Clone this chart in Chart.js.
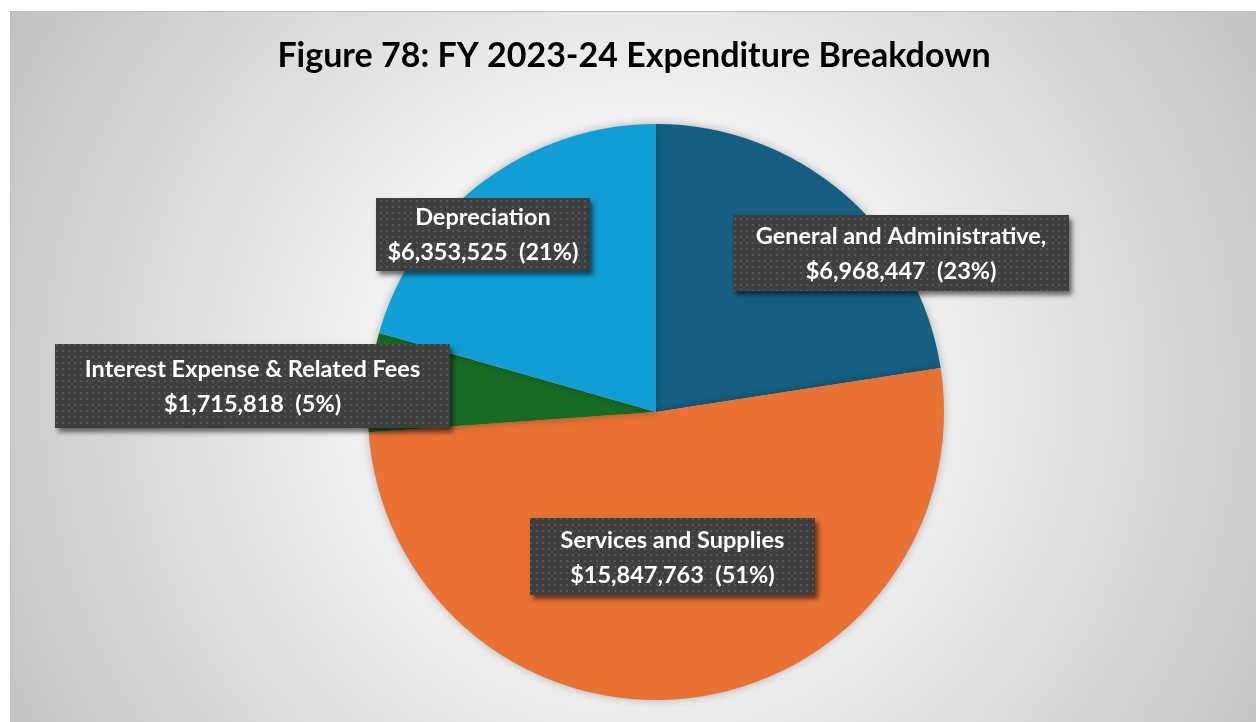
<!DOCTYPE html>
<html>
<head>
<meta charset="utf-8">
<title>FY 2023-24 Expenditure Breakdown</title>
<script src="https://cdn.jsdelivr.net/npm/chart.js@4.4.1/dist/chart.umd.min.js"></script>
<style>
  html, body { margin: 0; padding: 0; background: #fff; }
  #wrap { width: 1256px; height: 722px; }
</style>
</head>
<body>
<div id="wrap"><canvas id="pie"></canvas></div>
<script>
const chartTitle = "Figure 78: FY 2023-24 Expenditure Breakdown";
const categories = ["General and Administrative,", "Services and Supplies", "Interest Expense & Related Fees", "Depreciation"];
const amounts = [6968447, 15847763, 1715818, 6353525];
const percentLabels = ["23%", "51%", "5%", "21%"];
const sliceColors = ["#156082", "#E97132", "#196B24", "#0F9ED5"];

// callout boxes: centre offset from the pie centre (in radii) and box size in px
const callouts = [
  { dx: 0.851, dy: -0.552, w: 336, h: 76 },
  { dx: 0.057, dy: 0.502, w: 285, h: 77 },
  { dx: -1.401, dy: -0.09, w: 395, h: 84 },
  { dx: -0.601, dy: -0.618, w: 214, h: 73 }
];

const LABEL_FONT = "bold 23.5px Lato";
const TITLE_FONT = "bold 34px Lato";

function money(v) {
  return "$" + v.toLocaleString("en-US");
}

// dark fill with a faint dot grid for the callouts
function makeDotPattern(ctx) {
  const tile = document.createElement("canvas");
  tile.width = 6;
  tile.height = 6;
  const t = tile.getContext("2d");
  t.fillStyle = "#3f3f3f";
  t.fillRect(0, 0, 6, 6);
  t.fillStyle = "#575757";
  t.fillRect(2, 2, 2, 2);
  return ctx.createPattern(tile, "repeat");
}

const backdrop = {
  id: "backdrop",
  beforeDraw(chart) {
    const { ctx, width, height } = chart;
    ctx.save();
    ctx.fillStyle = "#ffffff";
    ctx.fillRect(0, 0, width, height);
    const g = ctx.createRadialGradient(640, 390, 0, 640, 390, 760);
    g.addColorStop(0, "#ffffff");
    g.addColorStop(0.35, "#f2f2f2");
    g.addColorStop(1, "#bfbfbf");
    ctx.fillStyle = g;
    ctx.fillRect(10, 11, width - 10, height - 11);
    ctx.strokeStyle = "#bdbdbd";
    ctx.lineWidth = 1;
    ctx.beginPath();
    ctx.moveTo(10.5, height);
    ctx.lineTo(10.5, 11.5);
    ctx.lineTo(width, 11.5);
    ctx.stroke();

    // title sits over the whole frame, not just the pie's box
    ctx.font = TITLE_FONT;
    ctx.fillStyle = "#000000";
    ctx.textAlign = "center";
    ctx.textBaseline = "middle";
    ctx.fillText(chartTitle, 634, 56);
    ctx.restore();
  }
};

// soft shadow under the pie
const pieShadow = {
  id: "pieShadow",
  beforeDatasetsDraw(chart) {
    const ctx = chart.ctx;
    ctx.save();
    ctx.shadowColor = "rgba(0,0,0,0.28)";
    ctx.shadowBlur = 8;
    ctx.shadowOffsetX = 0;
    ctx.shadowOffsetY = 0;
  },
  afterDatasetsDraw(chart) {
    chart.ctx.restore();
  }
};

const calloutLabels = {
  id: "calloutLabels",
  afterDraw(chart) {
    const ctx = chart.ctx;
    const arcs = chart.getDatasetMeta(0).data;
    const fill = makeDotPattern(ctx);
    arcs.forEach((arc, i) => {
      const { x, y, outerRadius } = arc.getProps(["x", "y", "outerRadius"], true);
      const c = callouts[i];
      const cx = x + c.dx * outerRadius;
      const cy = y + c.dy * outerRadius;
      const left = Math.round(cx - c.w / 2);
      const top = Math.round(cy - c.h / 2);

      ctx.save();
      ctx.shadowColor = "rgba(0,0,0,0.55)";
      ctx.shadowBlur = 5;
      ctx.shadowOffsetX = 3;
      ctx.shadowOffsetY = 4;
      ctx.fillStyle = fill;
      ctx.fillRect(left, top, c.w, c.h);
      ctx.restore();

      const lines = [categories[i], money(amounts[i]) + "  (" + percentLabels[i] + ")"];
      ctx.save();
      ctx.font = LABEL_FONT;
      ctx.fillStyle = "#ffffff";
      ctx.textAlign = "center";
      ctx.textBaseline = "middle";
      const lineH = 35;
      lines.forEach((line, k) => {
        ctx.fillText(line, cx, cy + 1 + (k - (lines.length - 1) / 2) * lineH);
      });
      ctx.restore();
    });
  }
};

new Chart(document.getElementById("pie"), {
  type: "pie",
  data: {
    labels: categories,
    datasets: [{
      data: amounts,
      backgroundColor: sliceColors,
      borderWidth: 0
    }]
  },
  options: {
    responsive: true,
    maintainAspectRatio: false,
    animation: false,
    rotation: 0,
    layout: { padding: { top: 124, bottom: 22, left: 56, right: 0 } },
    plugins: {
      legend: { display: false },
      tooltip: { enabled: false },
      title: { display: false }
    }
  },
  plugins: [backdrop, pieShadow, calloutLabels]
});
</script>
</body>
</html>
